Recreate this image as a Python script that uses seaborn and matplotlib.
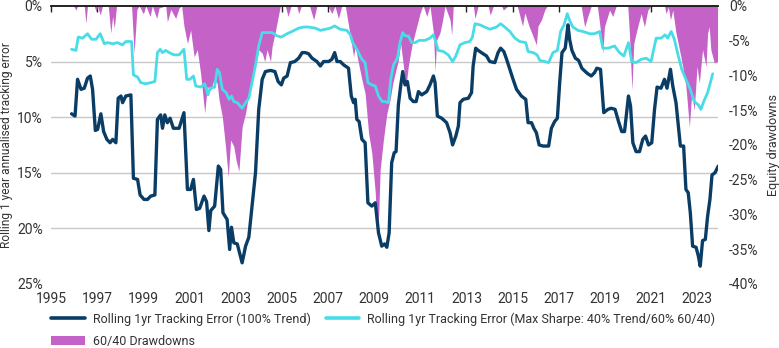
import matplotlib
matplotlib.use("Agg")
import matplotlib.pyplot as plt
import matplotlib.ticker as mticker
from matplotlib.patches import Patch
from matplotlib.lines import Line2D
import seaborn as sns
import pandas as pd

# ---------------- data (decimal years) ----------------
trend_years = [1995.89, 1996.04, 1996.15, 1996.30, 1996.44, 1996.58, 1996.70, 1996.80, 1996.92, 1997.02,
               1997.16, 1997.28, 1997.42, 1997.56, 1997.67, 1997.81, 1997.91, 1998.03, 1998.10, 1998.24,
               1998.46, 1998.57, 1998.75, 1998.86, 1999.03, 1999.18, 1999.32, 1999.50, 1999.61, 1999.75,
               1999.83, 1999.93, 2000.04, 2000.16, 2000.30, 2000.55, 2000.76, 2000.91, 2001.05, 2001.17,
               2001.30, 2001.44, 2001.63, 2001.74, 2001.84, 2001.92, 2002.09, 2002.25, 2002.35, 2002.45,
               2002.63, 2002.74, 2002.82, 2002.92, 2003.07, 2003.17, 2003.28, 2003.43, 2003.57, 2003.71,
               2003.86, 2004.00, 2004.15, 2004.29, 2004.51, 2004.70, 2004.84, 2004.98, 2005.08, 2005.23,
               2005.37, 2005.56, 2005.73, 2005.88, 2006.02, 2006.16, 2006.31, 2006.52, 2006.67, 2006.81,
               2007.03, 2007.17, 2007.29, 2007.39, 2007.53, 2007.68, 2007.89, 2008.01, 2008.11, 2008.18,
               2008.25, 2008.35, 2008.47, 2008.61, 2008.73, 2008.90, 2009.05, 2009.19, 2009.33, 2009.45,
               2009.55, 2009.65, 2009.76, 2009.87, 2009.95, 2010.05, 2010.15, 2010.24, 2010.34, 2010.44,
               2010.56, 2010.70, 2010.82, 2010.92, 2011.06, 2011.28, 2011.42, 2011.57, 2011.64, 2011.74,
               2011.93, 2012.14, 2012.29, 2012.40, 2012.54, 2012.65, 2012.72, 2012.86, 2013.08, 2013.22,
               2013.29, 2013.40, 2013.51, 2013.65, 2013.87, 2014.01, 2014.23, 2014.37, 2014.48, 2014.62,
               2014.74, 2014.88, 2015.02, 2015.17, 2015.38, 2015.57, 2015.67, 2015.82, 2015.92, 2016.03,
               2016.15, 2016.32, 2016.56, 2016.68, 2016.82, 2016.94, 2017.04, 2017.14, 2017.28, 2017.40,
               2017.47, 2017.57, 2017.72, 2017.86, 2018.00, 2018.15, 2018.26, 2018.41, 2018.55, 2018.65,
               2018.81, 2018.95, 2019.13, 2019.27, 2019.44, 2019.59, 2019.73, 2019.85, 2020.02, 2020.11,
               2020.21, 2020.35, 2020.50, 2020.64, 2020.76, 2020.89, 2021.03, 2021.15, 2021.26, 2021.43,
               2021.58, 2021.69, 2021.84, 2021.94, 2022.08, 2022.18, 2022.27, 2022.41, 2022.51, 2022.61,
               2022.70, 2022.80, 2022.95, 2023.05, 2023.13, 2023.23, 2023.35, 2023.45, 2023.55, 2023.64,
               2023.77, 2023.91]
trend_te = [9.7, 9.9, 6.6, 7.5, 7.4, 6.5, 6.3, 7.5, 11.2, 11.1,
            9.7, 11.3, 12.0, 12.3, 12.0, 12.3, 8.3, 8.1, 8.7, 8.1,
            8.0, 15.5, 15.6, 17.0, 17.4, 17.4, 17.1, 17.0, 10.2, 9.8,
            11.0, 9.8, 10.5, 10.1, 11.0, 11.0, 9.6, 16.5, 16.5, 15.6,
            18.3, 18.2, 17.1, 17.6, 20.2, 18.4, 18.0, 14.4, 14.7, 18.6,
            19.2, 21.9, 19.9, 21.3, 21.4, 22.2, 23.1, 21.6, 20.8, 18.0,
            15.0, 9.3, 6.6, 5.9, 5.8, 5.9, 6.8, 7.1, 6.5, 6.3,
            5.1, 5.0, 4.7, 4.2, 4.2, 4.3, 4.7, 5.0, 5.4, 5.0,
            5.0, 4.8, 4.2, 5.0, 5.0, 5.3, 5.6, 8.1, 8.7, 8.4,
            10.2, 10.4, 12.0, 12.3, 17.7, 18.0, 17.7, 20.4, 21.6, 21.4,
            21.7, 20.4, 14.1, 13.2, 13.1, 8.9, 7.2, 5.9, 7.1, 6.8,
            8.3, 8.6, 8.6, 7.7, 8.0, 7.7, 7.1, 6.3, 6.9, 9.9,
            10.1, 10.5, 11.4, 12.5, 11.7, 10.8, 8.7, 8.4, 8.3, 7.8,
            5.4, 3.8, 4.0, 4.2, 4.5, 5.0, 5.1, 4.2, 3.8, 4.1,
            4.8, 5.7, 6.6, 7.5, 8.1, 8.4, 10.5, 10.5, 11.0, 11.4,
            12.5, 12.6, 12.6, 11.0, 10.4, 10.1, 6.9, 4.2, 3.8, 1.7,
            3.0, 4.0, 4.7, 4.9, 5.6, 5.9, 6.1, 6.3, 6.0, 5.6,
            5.7, 9.6, 9.3, 9.2, 9.3, 10.4, 11.3, 11.3, 8.1, 9.0,
            12.3, 13.1, 13.1, 12.0, 11.7, 12.5, 12.3, 9.3, 7.3, 7.4,
            6.6, 7.4, 5.7, 7.2, 8.7, 10.8, 12.6, 12.6, 16.5, 16.8,
            18.6, 21.6, 21.7, 22.5, 23.4, 21.1, 21.0, 18.9, 17.4, 15.2,
            15.0, 14.4]

sharpe_years = [1995.89, 1996.08, 1996.18, 1996.37, 1996.58, 1996.76, 1996.95, 1997.13, 1997.31, 1997.45,
                1997.67, 1997.88, 1998.10, 1998.24, 1998.49, 1998.57, 1998.75, 1998.89, 1999.10, 1999.32,
                1999.50, 1999.61, 1999.73, 1999.83, 1999.97, 2000.12, 2000.33, 2000.55, 2000.76, 2000.88,
                2001.02, 2001.17, 2001.27, 2001.48, 2001.66, 2001.80, 2001.89, 2002.09, 2002.20, 2002.30,
                2002.42, 2002.59, 2002.71, 2002.82, 2002.92, 2003.07, 2003.28, 2003.43, 2003.57, 2003.71,
                2003.86, 2004.00, 2004.15, 2004.29, 2004.58, 2004.80, 2004.98, 2005.23, 2005.44, 2005.73,
                2005.95, 2006.16, 2006.45, 2006.67, 2006.88, 2007.10, 2007.29, 2007.53, 2007.82, 2007.97,
                2008.07, 2008.25, 2008.47, 2008.61, 2008.73, 2008.90, 2009.05, 2009.19, 2009.35, 2009.48,
                2009.62, 2009.72, 2009.84, 2010.01, 2010.12, 2010.24, 2010.34, 2010.48, 2010.63, 2010.77,
                2010.96, 2011.20, 2011.42, 2011.57, 2011.68, 2011.78, 2012.00, 2012.21, 2012.40, 2012.54,
                2012.72, 2012.93, 2013.15, 2013.26, 2013.37, 2013.58, 2013.80, 2014.01, 2014.30, 2014.48,
                2014.66, 2014.88, 2015.10, 2015.31, 2015.57, 2015.67, 2015.89, 2016.06, 2016.18, 2016.39,
                2016.56, 2016.75, 2016.94, 2017.08, 2017.23, 2017.37, 2017.47, 2017.61, 2017.83, 2018.05,
                2018.34, 2018.55, 2018.77, 2018.91, 2019.13, 2019.42, 2019.63, 2019.82, 2020.02, 2020.16,
                2020.35, 2020.57, 2020.79, 2021.00, 2021.22, 2021.43, 2021.61, 2021.72, 2021.87, 2022.01,
                2022.18, 2022.33, 2022.51, 2022.70, 2022.87, 2023.05, 2023.16, 2023.28, 2023.45, 2023.57,
                2023.67]
sharpe_te = [3.9, 4.0, 2.8, 2.9, 2.5, 3.0, 3.0, 2.5, 3.4, 3.3,
             3.4, 3.3, 3.5, 3.2, 3.2, 6.2, 6.4, 6.9, 7.0, 6.9,
             6.8, 4.2, 3.9, 4.2, 4.0, 4.2, 4.4, 4.4, 3.9, 6.6,
             6.6, 6.3, 7.2, 7.3, 7.0, 8.0, 7.4, 7.3, 5.7, 6.0,
             7.5, 7.8, 8.4, 8.1, 8.6, 8.7, 9.2, 8.7, 8.3, 6.9,
             5.3, 3.6, 2.4, 2.4, 2.4, 2.7, 2.8, 2.5, 2.3, 2.0,
             1.9, 1.9, 2.0, 2.2, 2.1, 2.0, 1.8, 2.1, 2.2, 2.6,
             3.3, 3.9, 4.8, 5.1, 6.9, 7.1, 7.2, 8.1, 8.6, 8.6,
             8.7, 6.6, 5.3, 4.7, 3.3, 2.4, 2.7, 2.7, 3.3, 3.3,
             3.1, 3.1, 2.9, 2.6, 3.3, 4.0, 4.1, 4.4, 5.0, 4.5,
             3.5, 3.3, 3.2, 2.8, 1.6, 1.7, 1.9, 2.1, 1.9, 1.6,
             1.9, 2.3, 2.9, 3.2, 3.3, 4.1, 4.2, 4.4, 4.9, 5.0,
             5.1, 4.2, 4.0, 2.3, 1.7, 0.7, 1.3, 1.9, 2.2, 2.3,
             2.5, 2.5, 2.3, 3.8, 3.8, 3.6, 4.2, 4.5, 3.3, 5.0,
             5.1, 4.8, 4.7, 5.0, 2.9, 2.9, 2.6, 2.9, 2.3, 3.0,
             4.5, 5.7, 6.6, 7.5, 8.6, 8.9, 9.3, 8.6, 7.8, 6.9,
             6.1]

dd_years = [1995.98, 1996.08, 1996.15, 1996.44, 1996.51, 1996.58, 1996.87, 1996.95, 1997.02, 1997.13,
            1997.23, 1997.48, 1997.59, 1997.67, 1997.74, 1997.84, 1998.49, 1998.60, 1998.72, 1998.82,
            1999.00, 1999.11, 1999.29, 1999.39, 1999.58, 1999.68, 1999.97, 2000.04, 2000.19, 2000.40,
            2000.55, 2000.66, 2000.76, 2000.91, 2001.05, 2001.20, 2001.34, 2001.48, 2001.66, 2001.77,
            2001.92, 2002.06, 2002.20, 2002.28, 2002.42, 2002.56, 2002.68, 2002.78, 2002.92, 2003.02,
            2003.14, 2003.28, 2003.43, 2003.57, 2003.71, 2003.86, 2004.00, 2004.15, 2004.26, 2004.36,
            2004.51, 2004.58, 2004.72, 2004.87, 2004.94, 2005.15, 2005.27, 2005.40, 2005.65, 2005.73,
            2005.85, 2006.20, 2006.38, 2006.52, 2007.00, 2007.17, 2007.30, 2007.45, 2007.60, 2007.75,
            2007.97, 2008.11, 2008.18, 2008.32, 2008.47, 2008.61, 2008.76, 2008.90, 2009.05, 2009.12,
            2009.20, 2009.26, 2009.40, 2009.55, 2009.69, 2009.81, 2009.91, 2010.05, 2010.15, 2010.27,
            2010.38, 2010.48, 2010.63, 2010.77, 2010.92, 2011.02, 2011.13, 2011.28, 2011.42, 2011.57,
            2011.64, 2011.71, 2011.85, 2011.97, 2012.07, 2012.29, 2012.36, 2012.43, 2013.30, 2013.37,
            2013.51, 2013.94, 2014.03, 2014.17, 2014.52, 2014.60, 2014.80, 2015.20, 2015.43, 2015.53,
            2015.71, 2015.89, 2016.03, 2016.10, 2016.25, 2016.39, 2016.50, 2017.97, 2018.12, 2018.26,
            2018.41, 2018.67, 2018.77, 2018.91, 2018.98, 2019.20, 2019.34, 2019.49, 2019.99, 2020.06,
            2020.17, 2020.25, 2020.42, 2020.57, 2020.71, 2020.86, 2021.00, 2021.58, 2021.65, 2021.75,
            2021.84, 2021.94, 2022.08, 2022.23, 2022.37, 2022.51, 2022.66, 2022.76, 2022.87, 2022.99,
            2023.09, 2023.23, 2023.38, 2023.45, 2023.52, 2023.59, 2023.74, 2023.88]
dd_vals = [0.0, -0.6, 0.0, 0.0, -2.5, 0.0, 0.0, -0.8, 0.0, -1.3,
           0.0, 0.0, -3.9, -1.5, -3.2, 0.0, 0.0, -6.8, -0.5, 0.0,
           -1.1, 0.0, -1.5, 0.0, -1.8, -0.3, 0.0, -2.3, -0.5, -1.8,
           -0.3, 0.0, -2.9, -5.4, -3.5, -7.3, -6.3, -9.7, -15.4, -11.6,
           -12.1, -10.6, -11.1, -13.5, -15.9, -20.2, -24.6, -19.3, -20.2, -22.2,
           -23.8, -17.4, -15.4, -12.6, -10.6, -8.7, -6.3, -6.8, -8.0, -6.3,
           -8.0, -5.8, -3.7, -1.1, 0.0, 0.0, -1.5, 0.0, 0.0, -1.1,
           0.0, 0.0, -2.0, 0.0, 0.0, -1.1, 0.0, -1.8, 0.0, 0.0,
           -4.4, -7.3, -5.8, -8.2, -10.6, -12.6, -18.3, -21.2, -26.9, -32.5,
           -30.0, -23.6, -19.3, -15.5, -13.5, -11.1, -9.7, -7.8, -5.4, -8.7,
           -11.6, -8.7, -5.8, -3.9, -2.0, -0.6, 0.0, -1.5, 0.0, -3.9,
           -9.4, -4.9, -3.9, -2.0, 0.0, -2.0, -4.2, 0.0, 0.0, -1.8,
           0.0, 0.0, -1.3, 0.0, 0.0, -0.6, 0.0, 0.0, -2.9, -1.0,
           -2.9, -4.4, -5.6, -2.9, -2.0, -0.6, 0.0, 0.0, -3.0, -1.5,
           0.0, 0.0, -2.5, -6.8, -3.0, -0.6, -1.5, 0.0, 0.0, -3.9,
           -12.1, -5.4, -3.0, -1.1, -3.0, -0.6, 0.0, 0.0, -1.1, -0.2,
           -2.0, -0.6, -3.9, -6.3, -8.7, -11.6, -17.4, -12.6, -15.0, -8.7,
           -11.1, -6.3, -8.7, -3.9, -3.0, -6.3, -8.2, -8.0]

year_ticks = list(range(1995, 2024, 2))
te_ticks = [0, 5, 10, 15, 20, 25]
dd_ticks = [0, -5, -10, -15, -20, -25, -30, -35, -40]

label_trend = "Rolling 1yr Tracking Error (100% Trend)"
label_sharpe = "Rolling 1yr Tracking Error (Max Sharpe: 40% Trend/60% 60/40)"
label_dd = "60/40 Drawdowns"

NAVY = "#0a3d66"
CYAN = "#48dde6"
PURPLE = "#c462c8"
TXT = "#333333"

# ---------------- plotting ----------------
sns.set_theme(style="white")
plt.rcParams["font.family"] = ["Roboto", "DejaVu Sans"]

fig = plt.figure(figsize=(7.79, 3.48), dpi=100)
ax2 = fig.add_axes([0.0655, 0.184, 0.9217 - 0.0655, 0.983 - 0.184])  # drawdowns (behind)
ax = ax2.twinx()  # tracking error (front)

ax.yaxis.tick_left()
ax.yaxis.set_label_position("left")
ax2.yaxis.tick_right()
ax2.yaxis.set_label_position("right")

# drawdown fill
ax2.fill_between(dd_years, dd_vals, 0, color=PURPLE, linewidth=0, zorder=3)
ax2.set_ylim(-40, 0)
ax2.set_yticks(dd_ticks)
ax2.yaxis.set_major_formatter(mticker.FuncFormatter(lambda v, p: f"{v:.0f}%"))
# grid lines aligned with tracking-error ticks (5% TE == -8% DD)
ax2.set_yticks([-8, -16, -24, -32, -40], minor=True)
ax2.grid(which="minor", axis="y", color="#c8c8c8", linewidth=1.0, zorder=0)
ax2.grid(which="major", visible=False)
ax2.tick_params(axis="y", which="minor", length=0)
ax2.tick_params(axis="y", which="major", length=0, pad=8, labelsize=10, labelcolor=TXT)
ax2.set_ylabel("Equity drawdowns", fontsize=9, color=TXT, labelpad=6)

# tracking error lines
df_trend = pd.DataFrame({"year": trend_years, "te": trend_te})
df_sharpe = pd.DataFrame({"year": sharpe_years, "te": sharpe_te})
sns.lineplot(data=df_sharpe, x="year", y="te", ax=ax, color=CYAN, linewidth=2.0, zorder=4)
sns.lineplot(data=df_trend, x="year", y="te", ax=ax, color=NAVY, linewidth=2.4, zorder=5)
ax.set_ylim(25, 0)
ax.set_yticks(te_ticks)
ax.yaxis.set_major_formatter(mticker.FuncFormatter(lambda v, p: f"{v:.0f}%"))
ax.tick_params(axis="y", length=0, pad=6, labelsize=10, labelcolor=TXT)
ax.set_ylabel("Rolling 1 year annualised tracking error", fontsize=8.6, color=TXT, labelpad=3)
ax.set_xlabel("")
ax.grid(False)
ax.patch.set_visible(False)

ax2.set_xlim(1995, 2023.9)
ax2.set_xticks(year_ticks)
ax2.set_xticklabels([str(y) for y in year_ticks])
ax2.tick_params(axis="x", which="major", top=True, bottom=False, direction="in", length=4,
                width=1, color="#222222", labelbottom=True, labeltop=False, pad=6,
                labelsize=10, labelcolor=TXT)
ax.tick_params(axis="x", top=False, bottom=False, labelbottom=False)

for a in (ax, ax2):
    for side in ("left", "right", "bottom"):
        a.spines[side].set_visible(False)
ax.spines["top"].set_visible(False)
ax2.spines["top"].set_visible(True)
ax2.spines["top"].set_color("#111111")
ax2.spines["top"].set_linewidth(1.3)
ax2.spines["top"].set_zorder(10)

handles = [Line2D([0], [0], color=NAVY, linewidth=2.6),
           Patch(facecolor=PURPLE, edgecolor="none"),
           Line2D([0], [0], color=CYAN, linewidth=2.6)]
labels = [label_trend, label_dd, label_sharpe]
fig.legend(handles, labels, ncol=2, loc="upper left", bbox_to_anchor=(0.066, 0.103),
           frameon=False, fontsize=9, handlelength=2.7, handletextpad=0.6,
           columnspacing=1.2, labelspacing=0.75, borderpad=0, borderaxespad=0,
           labelcolor=TXT)

fig.savefig("out.png", dpi=100)
